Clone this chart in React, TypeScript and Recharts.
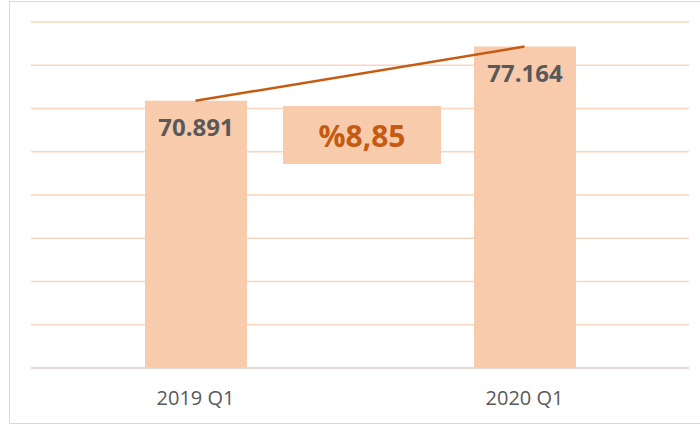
import { ComposedChart, Bar, Line, XAxis, YAxis, CartesianGrid, LabelList } from 'recharts'

const categories = ['2019 Q1', '2020 Q1']
const values = [70891, 77164]
const yTicks = [40000, 45000, 50000, 55000, 60000, 65000, 70000, 75000, 80000]

const data = categories.map((name, i) => ({ name, value: values[i] }))

// growth between the two quarters, shown Turkish style: %8,85
const growth = (((values[1] - values[0]) / values[0]) * 100).toFixed(2).replace('.', ',')

const font = "'Open Sans', 'DejaVu Sans', sans-serif"

const fmt = (v: number) => v.toLocaleString('de-DE')

function ValueLabel(props: any) {
  const { x, y, width, value } = props
  return (
    <text
      x={x + width / 2}
      y={y + 35}
      textAnchor="middle"
      fill="#595959"
      fontSize={24}
      fontWeight={700}
      fontFamily={font}
    >
      {fmt(value)}
    </text>
  )
}

export default function App() {
  return (
    <div
      style={{
        position: 'absolute',
        left: 9,
        top: 1,
        width: 700,
        height: 421,
        border: '1px solid #D9D9D9',
        background: '#fff',
        fontFamily: font,
      }}
    >
      <ComposedChart
        width={690}
        height={421}
        data={data}
        margin={{ top: 20, right: 11, left: 21, bottom: 25 }}
      >
        <CartesianGrid vertical={false} stroke="#F9D5BD" strokeWidth={1.5} />
        <XAxis
          dataKey="name"
          height={30}
          axisLine={{ stroke: '#D9D9D9', strokeWidth: 1.5 }}
          tickLine={false}
          tickSize={0}
          tickMargin={23}
          tick={{ fontSize: 20, fill: '#595959', fontFamily: font }}
        />
        <YAxis hide domain={[40000, 80000]} ticks={yTicks} />
        <Bar dataKey="value" fill="#F8CBAD" barSize={102} isAnimationActive={false}>
          <LabelList dataKey="value" content={ValueLabel} />
        </Bar>
        <Line
          dataKey="value"
          stroke="#C55A11"
          strokeWidth={2.5}
          dot={false}
          activeDot={false}
          isAnimationActive={false}
        />
      </ComposedChart>
      <div
        style={{
          position: 'absolute',
          left: 273,
          top: 104,
          width: 158,
          height: 58,
          background: '#F8CBAD',
          color: '#C55A11',
          fontSize: 30,
          fontWeight: 700,
          display: 'flex',
          alignItems: 'center',
          justifyContent: 'center',
        }}
      >
        %{growth}
      </div>
    </div>
  )
}
